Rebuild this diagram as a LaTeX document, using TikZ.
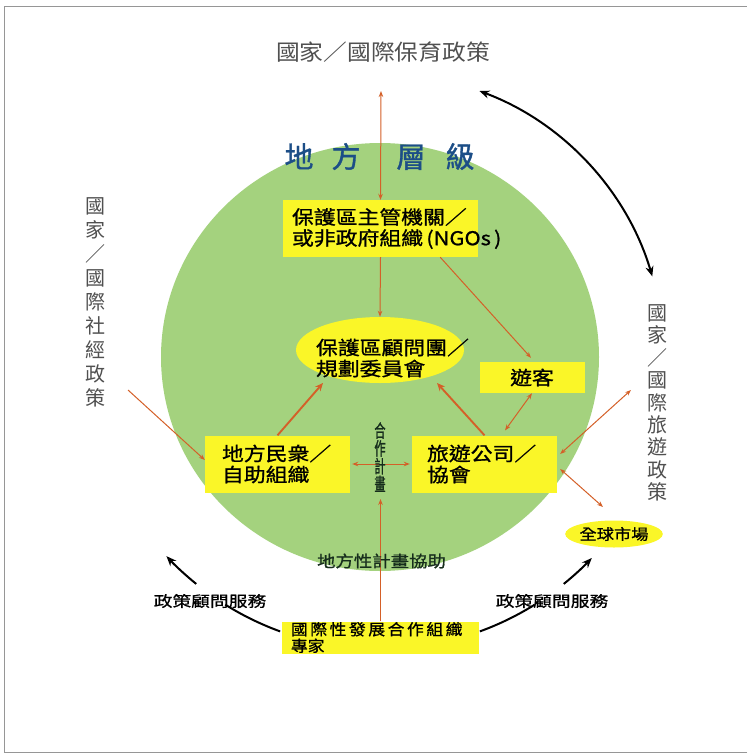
\documentclass[tikz,border=0pt]{standalone}
\usepackage{fontspec}
\setmainfont{Noto Sans CJK TC}
\newfontfamily\cjkn{Noto Sans CJK TC}
\newfontfamily\cjktitle[FakeStretch=1.08]{Noto Sans CJK TC}
\newfontfamily\cjkhead[FakeBold=1.2]{Noto Sans CJK TC}
\newfontfamily\cjk[FakeStretch=1.15,FakeBold=1.0]{Noto Sans CJK TC}
\newfontfamily\cjkwide[FakeStretch=1.25,FakeBold=0.8]{Noto Sans CJK TC}
\newfontfamily\cjkb[FakeStretch=1.08,FakeBold=1.0]{Noto Sans CJK TC}
\newfontfamily\cjknarrow[FakeStretch=0.62,FakeBold=1.4]{Noto Sans CJK TC}
\usetikzlibrary{arrows.meta,shapes.geometric,calc}
\definecolor{leaf}{RGB}{164,210,126}
\definecolor{lemon}{RGB}{250,246,40}
\definecolor{rust}{RGB}{212,96,40}
\definecolor{greytext}{RGB}{80,80,80}
\definecolor{navy}{RGB}{28,78,135}
\definecolor{darkgreen}{RGB}{22,45,28}
\definecolor{framegrey}{RGB}{150,150,150}
\begin{document}
\begin{tikzpicture}[x=1pt,y=-1pt,
  box/.style={fill=lemon, draw=none, inner ysep=0pt, align=left, text=black},
  boxfont/.style={font=\cjk\fontsize{19}{21}\selectfont},
  oarrow/.style={draw=rust, line width=1pt, -{Stealth[length=6pt,width=4.5pt]}},
  odouble/.style={draw=rust, line width=1pt, {Stealth[length=6pt,width=4.5pt]}-{Stealth[length=6pt,width=4.5pt]}},
  othick/.style={draw=rust, line width=1.9pt, -{Stealth[length=8pt,width=7pt]}},
  barc/.style={draw=black, line width=2pt},
  bhead/.style={-{Stealth[length=10pt,width=8pt]}},
  policy/.style={text=greytext, font=\cjkn\fontsize{20}{24}\selectfont, align=center, inner sep=0pt},
]
\useasboundingbox (0,0) rectangle (747,755);
\fill[white] (0,0) rectangle (747,755);
\draw[framegrey, line width=1pt] (747,752) -- (4,752) -- (4,6) -- (747,6);

% big green circle
\fill[leaf] (380,357) ellipse[x radius=219, y radius=214];

% titles
\node[policy, font=\cjktitle\fontsize{22}{24}\selectfont] (ttop) at (383,52) {國家／國際保育政策};
\node[policy] (tleft) at (95,302) {國\\家\\／\\國\\際\\社\\經\\政\\策};
\node[policy, font=\cjkn\fontsize{20}{22.4}\selectfont] (tright) at (657,403) {國\\家\\／\\國\\際\\旅\\遊\\政\\策};

% nodes
\node[box, boxfont, minimum width=195pt, minimum height=57pt, text width=177pt, inner xsep=9pt] (agency) at (380.5,228.5)
  {保護區主管機關／\\或非政府組織\,(NGOs\,)};
\node[ellipse, fill=lemon, minimum width=168pt, minimum height=66pt, inner sep=0pt] (panel) at (380,350) {};
\node[box, boxfont, fill=none, text width=160pt, inner xsep=0pt] (panelt) at (396,358) {保護區顧問團／\\規劃委員會};
\node[box, minimum width=105pt, minimum height=31pt, font=\cjk\fontsize{19}{21}\selectfont, align=center] (tourists) at (532,377.5) {遊客};
\node[box, boxfont, minimum width=145pt, minimum height=57pt, text width=111pt, inner xsep=17pt] (local) at (277.5,464) {地方民衆／\\自助組織};
\node[box, boxfont, minimum width=145pt, minimum height=57pt, text width=115pt, inner xsep=15pt] (tour) at (484.5,464) {旅遊公司／\\協會};
\node[ellipse, fill=lemon, minimum width=82pt, minimum height=27pt, inner sep=0pt, font=\cjk\fontsize{15}{17}\selectfont] (market) at (614,534) {全球市場};
\node[box, minimum width=197pt, minimum height=32pt, text width=179pt, inner xsep=9pt, font=\cjkb\fontsize{15.5}{16.5}\selectfont] (expert) at (380.5,637.5)
  {國\hspace{2.6pt}際\hspace{2.6pt}性\hspace{2.6pt}發\hspace{2.6pt}展\hspace{2.6pt}合\hspace{2.6pt}作\hspace{2.6pt}組\hspace{2.6pt}織\\專家};

% free ends
\coordinate (topend) at (381,91);
\coordinate (leftend) at (128,390);
\coordinate (rightend) at (631,390);
\coordinate (pl) at (323,383);
\coordinate (pr) at (437,383);
\coordinate (mk) at (603,507);
\coordinate (coop) at (380.5,499);
\coordinate (C) at (380,357);

% orange connectors
\draw[odouble] (topend) -- (agency.north);
\draw[oarrow] (agency.south) -- (panel.north);
\draw[oarrow] ([xshift=-38pt]agency.south east) -- ([xshift=-1pt,yshift=4pt]tourists.north);
\draw[othick] (local.north) -- (pl);
\draw[othick] (tour.north) -- (pr);
\draw[odouble, shorten >=6pt] (tourists.south) -- ([xshift=17pt]tour.north);
\draw[odouble] ([xshift=2pt]local.east) -- ([xshift=-2pt]tour.west);
\draw[oarrow] (leftend) -- ([yshift=4pt]local.west);
\draw[odouble] (rightend) -- ([xshift=3pt,yshift=10pt]tour.east);
\draw[odouble] ([xshift=3pt,yshift=-5pt]tour.east) -- (mk);
\draw[oarrow] (expert.north) -- (coop);

% in-circle labels
\node[text=navy, font=\cjkhead\fontsize{29}{30}\selectfont, inner sep=0pt] (level) at (379.5,156.5)
  {地\hspace{18pt}方\hspace{36pt}層\hspace{20pt}級};
\node[text=darkgreen, font=\cjknarrow\fontsize{18}{17.8}\selectfont, align=center, inner sep=0pt] (coopt) at (380,457) {合\\作\\計\\畫};
\node[text=darkgreen, font=\cjk\fontsize{16}{18}\selectfont, inner sep=0pt] (assist) at (381.5,561) {地方性計畫協助};

% black arcs
\draw[barc, {Stealth[length=10pt,width=8pt]}-{Stealth[length=10pt,width=8pt]}] ($(C)+(-69.5:284)$) arc[start angle=-69.5, end angle=-16.5, radius=284];
\draw[barc] ($(C)+(110:292)$) arc[start angle=110, end angle=122, radius=292];
\draw[barc, bhead] ($(C)+(129:292)$) arc[start angle=129, end angle=137, radius=292];
\draw[barc] ($(C)+(70:292)$) arc[start angle=70, end angle=58, radius=292];
\draw[barc, bhead] ($(C)+(51:292)$) arc[start angle=51, end angle=43.5, radius=292];
\node[font=\cjkwide\fontsize{15}{17}\selectfont, inner sep=0pt] (svcl) at (210,601) {政策顧問服務};
\node[font=\cjkwide\fontsize{15}{17}\selectfont, inner sep=0pt] (svcr) at (552,601) {政策顧問服務};
\end{tikzpicture}
\end{document}
